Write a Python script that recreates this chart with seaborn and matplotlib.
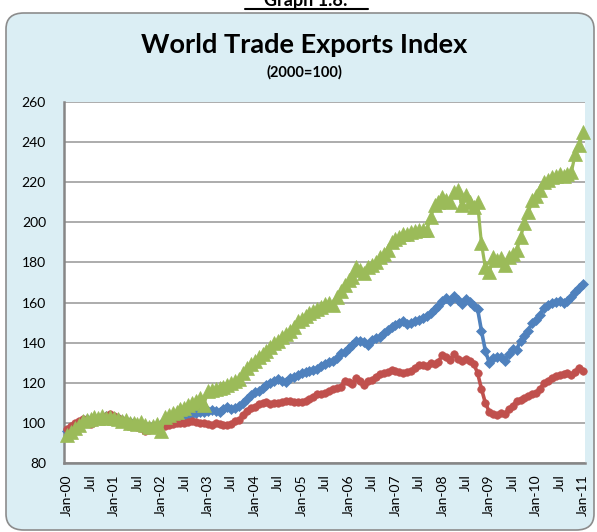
import numpy as np
import pandas as pd
import matplotlib
matplotlib.use('Agg')
import matplotlib.pyplot as plt
from matplotlib.patches import FancyBboxPatch
from matplotlib.lines import Line2D
import seaborn as sns

# monthly index values, Jan-00 .. Jan-11 (2000=100)
green_vals = [94, 95.5, 97.5, 99, 101, 101.5, 102, 103, 102.5, 103.5, 102.5, 103,
              102.5, 102, 101, 101.5, 100, 100, 99.5, 100.5, 99, 98, 98.5, 99.5,
              96, 103, 104, 105, 105.5, 107, 107.5, 109, 110, 111, 112.5, 109,
              116, 116.5, 117, 117.5, 118, 119, 120, 121, 122, 125, 127.5, 129.5,
              131, 133, 134.5, 136, 138, 140, 141, 143, 144.5, 146, 148, 151,
              152, 153.5, 155, 156, 157, 158, 159.5, 160, 159, 163, 166, 169,
              171, 172.5, 177.5, 176, 174.5, 177.5, 178.5, 180, 182.5, 184, 186, 190,
              191.5, 192.5, 194, 194, 195, 195.5, 196, 196, 196, 202.5, 208.5, 210,
              212.5, 211, 210, 215, 216, 208.5, 213.5, 210, 207.5, 210, 189.5, 177.5,
              175, 182.5, 181, 182, 178.5, 182.5, 184, 186, 192.5, 199.5, 205, 211,
              213, 216, 220, 221, 222.5, 223, 224, 223, 224, 225, 234, 238.5,
              245]
blue_vals = [96, 97.5, 99, 100, 101.5, 102, 101.5, 102, 102.5, 103, 103.5, 103,
             103, 102.5, 101.5, 101, 100.5, 100, 99.5, 99, 98.5, 98, 98.5, 99,
             99.5, 100.5, 101, 101.5, 102.5, 103, 103.5, 104, 104.5, 105, 105.5, 105.5,
             106, 106.5, 106, 105.5, 107, 108, 107, 107.5, 108.5, 110, 112, 114,
             115.5, 116, 117.5, 118.7, 120, 121, 122, 121, 120.5, 122.5, 123, 124,
             125, 125.5, 126, 126.5, 127, 128.5, 129.5, 130.5, 131, 132.5, 135, 135.5,
             137.5, 139, 141, 141, 140.5, 139, 141.5, 142.5, 143, 145, 146.5, 148,
             149, 150, 151, 149.5, 150, 151, 151.5, 152.5, 153.5, 155, 157, 158.5,
             161, 162.5, 161, 163.5, 161.5, 159.5, 162, 160.5, 158.5, 157, 146, 136,
             130, 132.5, 133, 133, 131, 134.5, 137, 136.5, 141, 143.5, 146, 150,
             151.5, 154, 157.5, 159, 160, 160.5, 161, 160, 161, 163, 165.5, 167.5,
             169.5]
red_vals = [97, 98.5, 100, 101, 102, 101, 99.5, 100.5, 101.5, 102.5, 103.5, 104.5,
            103.5, 102.5, 101.5, 100.5, 99.5, 99, 98, 97.5, 96, 96.5, 97, 97.5,
            98, 98.5, 99, 99.5, 100, 100, 100, 100.5, 101, 100.5, 100, 100,
            99.5, 99, 100, 99.5, 99, 99, 99.5, 101, 101.5, 104, 106, 107.5,
            108, 109.5, 110, 110.5, 109.5, 110, 110, 110.5, 111, 111, 110.5, 110.5,
            110.5, 111, 112, 113, 114.5, 114.5, 115, 116, 117, 117.5, 118, 121,
            120.5, 119.5, 122.5, 121, 119, 121, 121.5, 123, 124.5, 125, 125.5, 126.5,
            126, 125.5, 125, 125.5, 126, 127.5, 129, 129, 128.5, 130, 129.5, 130.5,
            134, 133, 131.5, 134.5, 132, 131, 132, 131, 129.5, 125, 117, 110,
            105.5, 104.5, 104, 105, 104.5, 107, 108.5, 111, 111.5, 112.5, 113.5, 114.5,
            115, 117, 120, 121, 122.5, 123.5, 124, 124.5, 125, 124, 125.5, 127.5,
            126]

years = ["00", "01", "02", "03", "04", "05", "06", "07", "08", "09", "10", "11"]
tick_labels = []
for i, yy in enumerate(years):
    tick_labels.append("Jan-" + yy)
    if i < len(years) - 1:
        tick_labels.append("Jul")

month = np.arange(len(green_vals))
df_blue = pd.DataFrame({"month": month, "value": blue_vals})
df_red = pd.DataFrame({"month": month, "value": red_vals})
df_green = pd.DataFrame({"month": month, "value": green_vals})

sns.set_style("white")
plt.rcParams['font.family'] = ['Lato', 'DejaVu Sans']
plt.rcParams['text.color'] = 'black'
plt.rcParams['xtick.color'] = 'black'
plt.rcParams['ytick.color'] = 'black'

fig = plt.figure(figsize=(5.97, 5.32), dpi=100, facecolor="white")

# light blue rounded panel behind the chart
panel = FancyBboxPatch((6 / 597, 2 / 532), 588 / 597, 517 / 532,
                       boxstyle="round,pad=0,rounding_size=0.03",
                       transform=fig.transFigure, facecolor="#DBEEF4",
                       edgecolor="#8C8C8C", linewidth=1.2, zorder=-10)
fig.patches.append(panel)

# clipped heading above the panel
fig.text(0.513, 1 - 6 / 532, "Graph 1.8:", ha="center", va="baseline",
         fontsize=13, fontweight="bold")
fig.lines.append(Line2D([245 / 597, 368 / 597], [1 - 9 / 532, 1 - 9 / 532],
                        transform=fig.transFigure, color="black", linewidth=1.5))

fig.text(0.51, 1 - 45 / 532, "World Trade Exports Index", ha="center", va="center",
         fontsize=19.5, fontweight="bold")
fig.text(0.51, 1 - 72 / 532, "(2000=100)", ha="center", va="center",
         fontsize=10.5, fontweight="bold")

ax = fig.add_axes([64 / 597, 1 - 463 / 532, 521 / 597, 361 / 532])
ax.set_facecolor("white")

sns.lineplot(data=df_blue, x="month", y="value", ax=ax, color="#4F81BD",
             linewidth=2.6, marker="D", markersize=4.6, markeredgewidth=0.5,
             markeredgecolor="#4F81BD", zorder=3, clip_on=False)
sns.lineplot(data=df_red, x="month", y="value", ax=ax, color="#C0504D",
             linewidth=2.6, marker="o", markersize=5.4, markeredgewidth=0.5,
             markeredgecolor="#C0504D", zorder=4, clip_on=False)
sns.lineplot(data=df_green, x="month", y="value", ax=ax, color="#9BBB59",
             linewidth=2.3, marker="^", markersize=10, markeredgewidth=0.5,
             markeredgecolor="#9BBB59", zorder=5, clip_on=False)

ax.set_xlim(-0.8, 132.5)
ax.set_ylim(80, 260)
ax.set_yticks(range(80, 261, 20))
ax.set_xticks(range(0, 133, 6))
ax.set_xticklabels(tick_labels, rotation=90, fontsize=10)
ax.tick_params(axis="y", labelsize=10, length=0, pad=13)
ax.tick_params(axis="x", length=0, pad=8)
ax.set_xlabel("")
ax.set_ylabel("")

ax.yaxis.grid(True, color="#A6A6A6", linewidth=1.3)
ax.set_axisbelow(True)
for side in ["top", "right"]:
    ax.spines[side].set_visible(False)
for side in ["left", "bottom"]:
    ax.spines[side].set_color("#868686")
    ax.spines[side].set_linewidth(1.8)

fig.savefig("out.png", dpi=100, facecolor="white")
